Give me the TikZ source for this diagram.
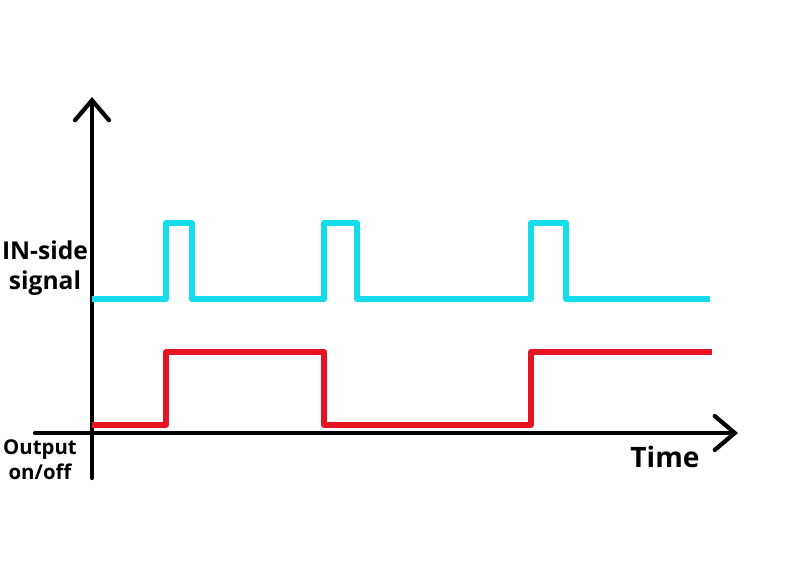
\documentclass[tikz,border=0pt]{standalone}
\usepackage{fontspec}
\setmainfont{Open Sans}
\usetikzlibrary{arrows.meta, positioning}
\definecolor{SignalCyan}{RGB}{20,220,235}
\definecolor{OutputRed}{RGB}{230,20,35}

\begin{document}
\begin{tikzpicture}[x=0.025cm, y=0.025cm, font=\bfseries,
	axis/.style={line width=3pt, line cap=round, -{Straight Barb[length=5mm, width=8.5mm, line cap=round]}},
	wave/.style={line width=4pt, line join=round}]
	\useasboundingbox (0,0) rectangle (794,567);
	% axes
	\coordinate (origin) at (92,134);
	\coordinate (ybot) at (92,89);
	\coordinate (ytop) at (92,470);
	\coordinate (xleft) at (35,134);
	\coordinate (xright) at (738,134);
	\draw[axis] (ybot) -- (ytop);
	\draw[axis] (xleft) -- (xright);
	% IN-side signal
	\draw[wave, SignalCyan] (92,268) -- (166,268) -- (166,344) -- (192,344) -- (192,268)
		-- (324,268) -- (324,344) -- (357,344) -- (357,268)
		-- (531,268) -- (531,344) -- (566,344) -- (566,268) -- (710,268);
	% output on/off
	\draw[wave, OutputRed] (92,142) -- (166,142) -- (166,215) -- (324,215) -- (324,142)
		-- (531,142) -- (531,215) -- (712,215);
	% labels
	\node[font=\fontsize{17.5}{21}\selectfont\bfseries, align=center] (inlabel) at (45,299) {IN-side\\signal};
	\node[font=\fontsize{14.5}{17.5}\selectfont\bfseries, align=center] (outlabel) at (40,107) {Output\\on/off};
	\node[font=\fontsize{20}{24}\selectfont\bfseries] (timelabel) at (665,110) {Time};
\end{tikzpicture}
\end{document}
